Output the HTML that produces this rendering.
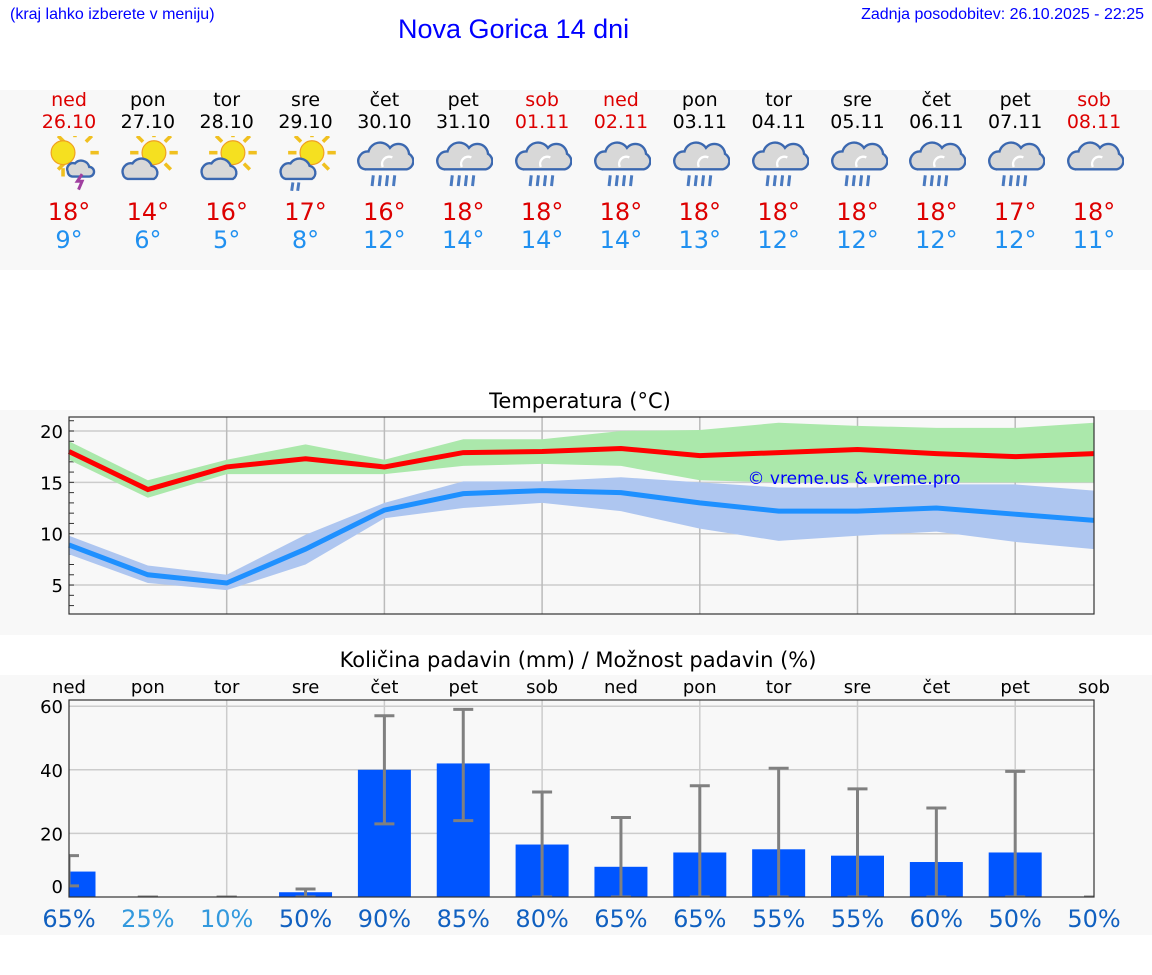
<!DOCTYPE html>
<html><head><meta charset="utf-8">
<style>
body{margin:0;width:1152px;height:975px;background:#fff;font-family:"DejaVu Sans","Liberation Sans",sans-serif;position:relative;overflow:hidden}
.abs{position:absolute}
</style></head>
<body>
<div class="abs" style="left:10px;top:6px;font-size:16px;color:#00f;font-family:'Liberation Sans',sans-serif">(kraj lahko izberete v meniju)</div>
<div class="abs" style="left:398px;top:14px;font-size:27px;color:#00f;font-family:'Liberation Sans',sans-serif">Nova Gorica 14 dni</div>
<div class="abs" style="right:8px;top:6px;font-size:16px;color:#00f;font-family:'Liberation Sans',sans-serif">Zadnja posodobitev: 26.10.2025 - 22:25</div>
<div class="abs" style="left:0;top:90px;width:1152px;height:180px;background:#f8f8f8"></div>
<div class="abs" style="left:0;top:410px;width:1152px;height:225px;background:#f8f8f8"></div>
<div class="abs" style="left:0;top:675px;width:1152px;height:260px;background:#f8f8f8"></div>
<div id="days"></div>
<svg id="chart" class="abs" style="left:0;top:0" width="1152" height="975"></svg>
<script>
const dayNames=["ned","pon","tor","sre","čet","pet","sob","ned","pon","tor","sre","čet","pet","sob"];
const dates=["26.10","27.10","28.10","29.10","30.10","31.10","01.11","02.11","03.11","04.11","05.11","06.11","07.11","08.11"];
const icons=["storm","suncloud","suncloud","sunrain","rain","rain","rain","rain","rain","rain","rain","rain","rain","cloud"];
const tMax=[18,14.3,16.5,17.3,16.5,17.9,18,18.3,17.6,17.9,18.2,17.8,17.5,17.8];
const tMin=[8.9,6,5.2,8.5,12.3,13.9,14.2,14,13,12.2,12.2,12.5,11.9,11.3];
const maxLo=[17.2,13.5,15.8,15.8,15.8,16.6,16.8,16.6,15.2,15,15,15,15,15];
const maxHi=[19,15.2,17.2,18.7,17.2,19.2,19.2,20,20.1,20.8,20.5,20.3,20.3,20.8];
const minLo=[8,5.2,4.5,7,11.5,12.5,13,12.2,10.5,9.3,9.8,10.2,9.2,8.5];
const minHi=[9.8,6.9,6,9.9,13,15.1,15.1,15.5,15,14.5,14.5,14.8,14.8,14.2];
const hiLabels=[18,14,16,17,16,18,18,18,18,18,18,18,17,18];
const loLabels=[9,6,5,8,12,14,14,14,13,12,12,12,12,11];
const rain=[8,0,0,1.5,40,42,16.5,9.5,14,15,13,11,14,0];
const errLo=[3.5,0,0,0,23,24,0,0,0,0,0,0,0,0];
const errHi=[13,0,0,2.5,57,59,33,25,35,40.5,34,28,39.5,0];
const prob=[65,25,10,50,90,85,80,65,65,55,55,60,50,50];
const tempTicks=[5,10,15,20];
const rainTicks=[0,20,40,60];

const X=i=>69+i*78.85;
const TY=t=>431+(20-t)*10.27;
const RY=v=>897-v*3.18;
const NS="http://www.w3.org/2000/svg";
const svg=document.getElementById('chart');
function mk(tag,attrs,parent){const e=document.createElementNS(NS,tag);for(const k in attrs)e.setAttribute(k,attrs[k]);(parent||svg).appendChild(e);return e;}

const days=document.getElementById('days');
function iconSvg(type){
  const sun='<g stroke="#f0c020" stroke-width="3">'+[0,45,90,135,180,225,270,315].map(a=>{const r=a*Math.PI/180;return `<line x1="${30+Math.cos(r)*13}" y1="${14+Math.sin(r)*13}" x2="${30+Math.cos(r)*20}" y2="${14+Math.sin(r)*20}"/>`}).join('')+'</g><circle cx="30" cy="14" r="10" fill="#f5e020" stroke="#f0a020"/>';
  const cloudS='<path d="M4 32a7 7 0 0 1 8-9a9 9 0 0 1 16 2a6 6 0 0 1 2 11h-22a5 5 0 0 1-4-4z" fill="#d8d8d8" stroke="#3b68b0" stroke-width="2"/>';
  const cloudB='<path d="M4 24a8 8 0 0 1 8-11a10 10 0 0 1 18-3a9 9 0 0 1 16 5a7 7 0 0 1-2 13h-34a6 6 0 0 1-6-4z" fill="#d8d8d8" stroke="#3b68b0" stroke-width="2"/><path d="M24 26a6 6 0 0 1 8-8" fill="none" stroke="#fff" stroke-width="2"/>';
  const drops='<g stroke="#4a7ac0" stroke-width="2.5"><line x1="16" y1="33" x2="15" y2="42"/><line x1="22" y1="33" x2="21" y2="42"/><line x1="28" y1="33" x2="27" y2="42"/><line x1="34" y1="33" x2="33" y2="42"/></g>';
  let s='';
  if(type==='storm')s=sun.replace(/30/g,'20')+'<path d="M24 30a5 5 0 0 1 6-7a7 7 0 0 1 12 3a4 4 0 0 1 0 8h-14a4 4 0 0 1-4-4z" fill="#d8d8d8" stroke="#3b68b0" stroke-width="2"/><path d="M36 32l-4 6h4l-3 7" stroke="#a040a0" stroke-width="2.5" fill="none"/>';
  else if(type==='suncloud')s=sun+cloudS;
  else if(type==='sunrain')s=sun+cloudS+'<g stroke="#4a7ac0" stroke-width="2.5"><line x1="14" y1="39" x2="13" y2="46"/><line x1="19" y1="39" x2="18" y2="46"/></g>';
  else if(type==='rain')s=cloudB+drops;
  else s=cloudB;
  return `<svg width="60" height="56" viewBox="0 0 50 47">${s}</svg>`;
}
for(let i=0;i<14;i++){
  const red=(dayNames[i]==='ned'||dayNames[i]==='sob');
  const d=document.createElement('div');
  d.className='abs';
  
  
  d.style.cssText=`left:${X(i)-40}px;top:89px;width:80px;text-align:center`;
  d.innerHTML=`<div style="font-size:19px;line-height:22px;color:${red?'#d00':'#000'}">${dayNames[i]}</div>
<div style="font-size:19px;line-height:22px;color:${red?'#d00':'#000'}">${dates[i]}</div>
<div style="height:62px;display:flex;justify-content:center;align-items:flex-start;padding-top:3px">${iconSvg(icons[i])}</div>
<div style="font-size:24px;line-height:28px;color:#d00;margin-top:0px">${hiLabels[i]}°</div>
<div style="font-size:24px;line-height:28px;color:#2090f0">${loLabels[i]}°</div>`;
  days.appendChild(d);
}

const tt=mk('text',{x:580,y:408,'font-size':21,'text-anchor':'middle',fill:'#000'});tt.textContent='Temperatura (°C)';


for(const t of tempTicks){
  const g=mk('line',{x1:69,x2:1094,y1:TY(t),y2:TY(t),stroke:'#ccc','stroke-width':1.5});
  
  
  const l=mk('text',{x:63,y:TY(t)+7,'font-size':18,'text-anchor':'end'});l.textContent=t;
  
  
}
for(let t=3;t<=21;t++){mk('line',{x1:69,x2:74,y1:TY(t),y2:TY(t),stroke:'#333'});}
for(let i=2;i<14;i+=2){
  const v=mk('line',{x1:X(i),x2:X(i),y1:417,y2:614,stroke:'#bbb','stroke-width':1.5});
  
  
}
function band(lo,hi,fill,name){
  let d='M'+lo.map((v,i)=>X(i)+','+TY(v)).join('L')+'L'+hi.map((v,i)=>X(i)+','+TY(v)).reverse().join('L')+'Z';
  const p=mk('path',{d,fill});
  
  
}
band(maxLo,maxHi,'#abe8ab','max-temp-range');
band(minLo,minHi,'#aec6f0','min-temp-range');
function line(vals,col,name){
  const p=mk('polyline',{points:vals.map((v,i)=>X(i)+','+TY(v)).join(' '),fill:'none',stroke:col,'stroke-width':5});
  
  
}
line(tMax,'#ff0000','max-temp-line');
line(tMin,'#1e90ff','min-temp-line');
const cp=mk('text',{x:854,y:484,'font-size':17,'text-anchor':'middle',fill:'#00f'});cp.textContent='© vreme.us & vreme.pro';


const ta=mk('rect',{x:69,y:417,width:1025,height:197,fill:'none',stroke:'#333','stroke-width':1.2});



const pt=mk('text',{x:578,y:667,'font-size':21,'text-anchor':'middle'});pt.textContent='Količina padavin (mm) / Možnost padavin (%)';


for(let i=0;i<14;i++){
  const t=mk('text',{x:X(i),y:693,'font-size':18,'text-anchor':'middle'});t.textContent=dayNames[i];
  
  
}
for(const t of rainTicks){
  if(t>0){const g=mk('line',{x1:69,x2:1094,y1:RY(t),y2:RY(t),stroke:'#ccc','stroke-width':1.5});
  
  }
  const l=mk('text',{x:63,y:RY(t)+(t===0?-4:7),'font-size':18,'text-anchor':'end'});l.textContent=t;
  
  
}
for(let i=2;i<14;i+=2){
  const v=mk('line',{x1:X(i),x2:X(i),y1:700,y2:897,stroke:'#ccc','stroke-width':1.5});
  
  
}
const clip=mk('clipPath',{id:'pc'});mk('rect',{x:69,y:700,width:1025,height:197},clip);
const bars=mk('g',{'clip-path':'url(#pc)'});
for(let i=0;i<14;i++){
  const b=mk('rect',{x:X(i)-26.5,y:RY(rain[i]),width:53,height:rain[i]*3.18,fill:'#0055ff'},bars);
  
  
  const e=mk('g',{stroke:'#808080','stroke-width':3},bars);
  
  
  mk('line',{x1:X(i),x2:X(i),y1:RY(errLo[i]),y2:RY(errHi[i])},e);
  mk('line',{x1:X(i)-10,x2:X(i)+10,y1:RY(errLo[i]),y2:RY(errLo[i])},e);
  mk('line',{x1:X(i)-10,x2:X(i)+10,y1:RY(errHi[i]),y2:RY(errHi[i])},e);
}
const pa=mk('rect',{x:69,y:700,width:1025,height:197,fill:'none',stroke:'#333','stroke-width':1.2});


for(let i=0;i<14;i++){
  const p=prob[i];
  const col=p<=25?'#3399dd':'#1060c0';
  const t=mk('text',{x:X(i),y:927,'font-size':24,'text-anchor':'middle',fill:col});t.textContent=p+'%';
  
  
}
</script>
</body></html>
